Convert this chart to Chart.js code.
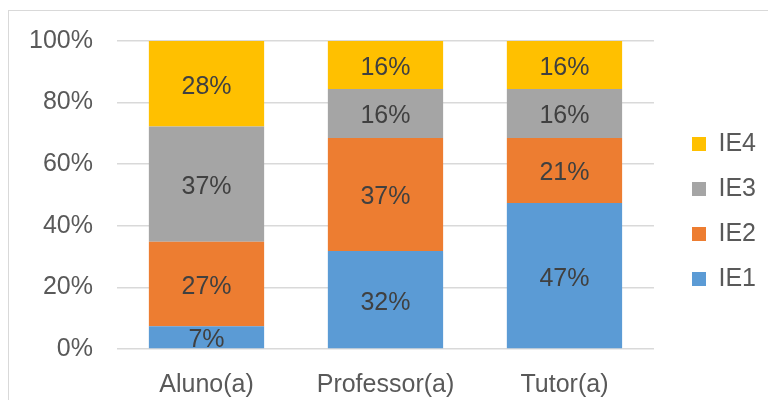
<!DOCTYPE html>
<html>
<head>
<meta charset="utf-8">
<script src="https://cdn.jsdelivr.net/npm/chart.js@4/dist/chart.umd.min.js"></script>
<style>
  body { margin: 0; background: #fff; }
  #frame { position: absolute; left: 8px; top: 10px; width: 780px; height: 400px; border: 1px solid #d9d9d9; }
  #wrap { position: absolute; left: 0; top: 0; width: 768px; height: 400px; }
</style>
</head>
<body>
<div id="frame"></div>
<div id="wrap"><canvas id="myChart" width="768" height="400"></canvas></div>
<script>
var categories = ["Aluno(a)", "Professor(a)", "Tutor(a)"];
var ie1 = [7.4, 31.8, 47.4];
var ie2 = [27.4, 36.7, 21.1];
var ie3 = [37.4, 15.9, 15.9];
var ie4 = [27.8, 15.6, 15.6];
var yTicks = [0, 20, 40, 60, 80, 100];

var barColors = ["#5B9BD5", "#ED7D31", "#A5A5A5", "#FFC000"];
var font = "'Liberation Sans', Arial, sans-serif";

// draws the % label in the middle of every segment
var centerLabels = {
    id: "centerLabels",
    afterDatasetsDraw: function(chart) {
        var ctx = chart.ctx;
        ctx.save();
        ctx.font = "25px " + font;
        ctx.fillStyle = "#404040";
        ctx.textAlign = "center";
        ctx.textBaseline = "middle";
        chart.data.datasets.forEach(function(ds, i) {
            var meta = chart.getDatasetMeta(i);
            meta.data.forEach(function(bar, j) {
                var p = bar.getProps(["x", "y", "base"], true);
                ctx.fillText(Math.round(ds.data[j]) + "%", p.x, (p.y + p.base) / 2 + 3);
            });
        });
        ctx.restore();
    }
};

// nudge the legend a little to the right and up, like the original
var moveLegend = {
    id: "moveLegend",
    afterLayout: function(chart) {
        var lg = chart.legend;
        lg.left += 18; lg.right += 18;
        lg.top -= 9; lg.bottom -= 9;
    }
};

new Chart("myChart", {
    type: "bar",
    data: {
        labels: categories,
        datasets: [
            { label: "IE1", data: ie1, backgroundColor: barColors[0] },
            { label: "IE2", data: ie2, backgroundColor: barColors[1] },
            { label: "IE3", data: ie3, backgroundColor: barColors[2] },
            { label: "IE4", data: ie4, backgroundColor: barColors[3] }
        ]
    },
    options: {
        responsive: false,
        animation: false,
        layout: { padding: { left: 0, top: 41, right: 20, bottom: 0 } },
        datasets: { bar: { barPercentage: 0.644, categoryPercentage: 1, borderWidth: 0 } },
        plugins: {
            legend: {
                position: "right",
                reverse: true,
                labels: {
                    font: { family: font, size: 25 },
                    color: "#595959",
                    boxWidth: 14,
                    boxHeight: 14,
                    padding: 20
                }
            },
            tooltip: { enabled: false }
        },
        scales: {
            x: {
                stacked: true,
                grid: { display: false },
                border: { display: false },
                afterFit: function(s) { s.height = 51; },
                ticks: { font: { family: font, size: 25 }, color: "#595959", padding: 13 }
            },
            y: {
                stacked: true,
                min: 0,
                max: 100,
                afterFit: function(s) { s.width = 117; },
                afterBuildTicks: function(s) { s.ticks = yTicks.map(function(v) { return { value: v }; }); },
                grid: { color: "#d9d9d9", lineWidth: 1.5, drawTicks: false },
                border: { display: false },
                ticks: {
                    font: { family: font, size: 25 },
                    color: "#595959",
                    padding: 24,
                    callback: function(v) { return v + "%"; }
                }
            }
        }
    },
    plugins: [centerLabels, moveLegend]
});
</script>
</body>
</html>
